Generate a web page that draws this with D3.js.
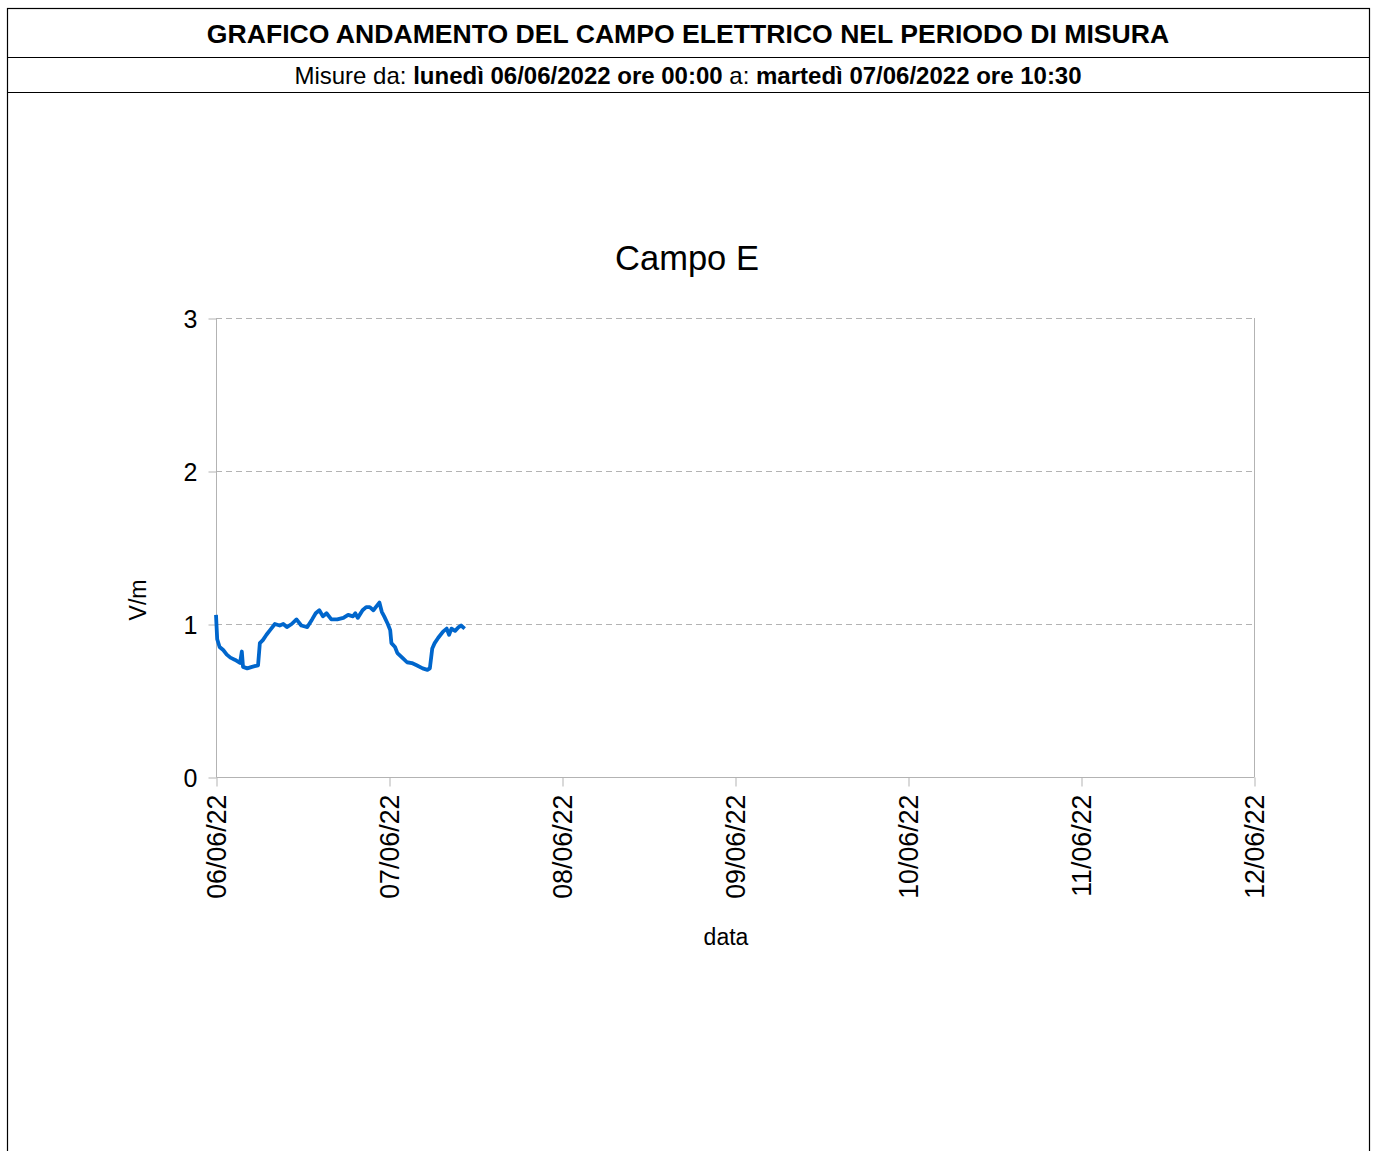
<!DOCTYPE html>
<meta charset="utf-8">
<script src="https://d3js.org/d3.v7.min.js"></script>
<style>
    body {margin:0; font-family: 'Liberation Sans', Arial, sans-serif; background:#fff;}
</style>
<body>
<svg width="1375" height="1151"></svg>
<script>
    // misure (ora, V/m)
    var times = [
        "06 00:00","06 00:10","06 00:30","06 01:00","06 01:30","06 02:00","06 02:40","06 03:20",
        "06 03:35","06 03:45","06 04:20","06 05:00","06 05:50","06 06:05","06 06:30","06 07:00",
        "06 07:30","06 08:10","06 08:50","06 09:20","06 09:50","06 10:30","06 11:10","06 11:50",
        "06 12:40","06 13:20","06 13:50","06 14:20","06 14:50","06 15:20","06 16:00","06 16:50",
        "06 17:40","06 18:20","06 19:00","06 19:20","06 19:40","06 20:20","06 20:50","06 21:20",
        "06 21:50","06 22:20","06 22:40","06 23:00","06 23:20","06 23:50","07 00:10","07 00:20",
        "07 00:50","07 01:10","07 01:50","07 02:30","07 03:10","07 03:50","07 04:40","07 05:20",
        "07 05:40","07 06:00","07 06:20","07 06:50","07 07:30","07 08:00","07 08:20","07 08:40",
        "07 09:10","07 09:40","07 10:00","07 10:30"];
    var values = [
        1.06, 0.90, 0.85, 0.83, 0.80, 0.78, 0.765, 0.745,
        0.82, 0.72, 0.71, 0.72, 0.73, 0.875, 0.895, 0.93,
        0.96, 1.00, 0.99, 1.00, 0.98, 1.00, 1.03, 0.99,
        0.98, 1.03, 1.07, 1.09, 1.05, 1.07, 1.03, 1.03,
        1.04, 1.06, 1.05, 1.07, 1.04, 1.09, 1.11, 1.11,
        1.09, 1.12, 1.14, 1.08, 1.05, 1.00, 0.96, 0.875,
        0.85, 0.81, 0.78, 0.75, 0.745, 0.73, 0.71, 0.70,
        0.71, 0.84, 0.875, 0.91, 0.95, 0.97, 0.93, 0.97,
        0.955, 0.98, 0.99, 0.97];
    var xTicks = ["06","07","08","09","10","11","12"];
    var yTicks = [0,1,2,3];

    var parseT = d3.timeParse("%Y-%m-%d %H:%M"),
        parseD = d3.timeParse("%Y-%m-%d"),
        fmt = d3.timeFormat("%d/%m/%y");
    var data = times.map(function(t,i){return {t: parseT("2022-06-" + t), v: values[i]};});

    var svg = d3.select("svg");
    var grey = "#b3b3b3";

    // cornice intestazione
    svg.append("rect").attr("x",7.5).attr("y",8.5).attr("width",1362).attr("height",1160)
        .style("fill","none").style("stroke","#000").style("stroke-width",1.2);
    svg.append("line").attr("x1",7).attr("x2",1370).attr("y1",57.5).attr("y2",57.5).style("stroke","#000").style("stroke-width",1.2);
    svg.append("line").attr("x1",7).attr("x2",1370).attr("y1",92.5).attr("y2",92.5).style("stroke","#000").style("stroke-width",1.2);

    svg.append("text").attr("x",688).attr("y",43).attr("text-anchor","middle")
        .style("font-size","26.6px").style("font-weight","bold")
        .text("GRAFICO ANDAMENTO DEL CAMPO ELETTRICO NEL PERIODO DI MISURA");
    var sub = svg.append("text").attr("x",688).attr("y",84).attr("text-anchor","middle").style("font-size","24px");
    sub.append("tspan").text("Misure da: ");
    sub.append("tspan").style("font-weight","bold").text("lunedì 06/06/2022 ore 00:00");
    sub.append("tspan").text(" a: ");
    sub.append("tspan").style("font-weight","bold").text("martedì 07/06/2022 ore 10:30");

    var pLeft = 216, pRight = 1254, pTop = 318, pBottom = 777;
    var x = d3.scaleTime().domain([parseD("2022-06-" + xTicks[0]), parseD("2022-06-" + xTicks[xTicks.length-1])]).range([pLeft, pRight]);
    var y = d3.scaleLinear().domain([0,3]).range([pBottom, pTop]);

    svg.append("text").attr("x",687).attr("y",270).attr("text-anchor","middle")
        .style("font-size","34.5px").text("Campo E");

    // griglia
    svg.append("g").selectAll("line").data(yTicks.filter(function(d){return d>0;})).enter().append("line")
        .attr("x1",pLeft).attr("x2",pRight).attr("y1",function(d){return y(d)+0.5;}).attr("y2",function(d){return y(d)+0.5;})
        .style("stroke",grey).style("stroke-dasharray","6,4");
    svg.append("line").attr("x1",pRight+0.5).attr("x2",pRight+0.5).attr("y1",pTop).attr("y2",pBottom).style("stroke",grey);

    var yAxis = svg.append("g").attr("transform","translate("+(pLeft+0.5)+",0.5)")
        .call(d3.axisLeft(y).tickValues(yTicks).tickSize(8).tickPadding(11).tickFormat(d3.format("d")));
    yAxis.selectAll("line, path").style("stroke",grey);
    yAxis.select(".domain").attr("d","M0,"+pTop+"V"+pBottom);
    yAxis.selectAll("text").style("font-size","25px").style("font-family","'Liberation Sans', Arial, sans-serif").attr("fill","#000").attr("dy","0.35em");

    var xAxis = svg.append("g").attr("transform","translate(0.5,"+(pBottom+0.5)+")")
        .call(d3.axisBottom(x).tickValues(xTicks.map(function(d){return parseD("2022-06-" + d);})).tickSize(9).tickFormat(fmt));
    xAxis.selectAll("line, path").style("stroke",grey);
    xAxis.select(".domain").attr("d","M"+pLeft+",0H"+pRight);
    xAxis.selectAll("text").style("font-size","26.8px").style("font-family","'Liberation Sans', Arial, sans-serif").attr("fill","#000")
        .attr("transform","rotate(-90)").attr("x",-17).attr("y",0).attr("dy","0.35em").style("text-anchor","end");

    svg.append("text").attr("transform","translate(146,600) rotate(-90)").attr("text-anchor","middle")
        .style("font-size","23px").text("V/m");
    svg.append("text").attr("x",726).attr("y",945).attr("text-anchor","middle")
        .style("font-size","23px").text("data");

    svg.append("path").datum(data)
        .attr("d", d3.line().x(function(d){return x(d.t);}).y(function(d){return y(d.v);}))
        .style("fill","none").style("stroke","#0066cc").style("stroke-width",3.8).style("stroke-linejoin","round");
</script>
</body>
